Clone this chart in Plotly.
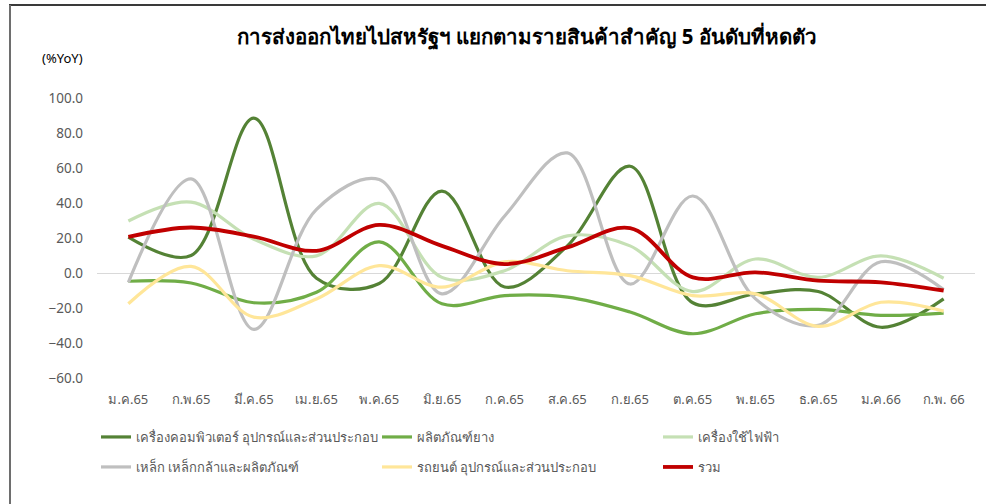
import plotly.graph_objects as go

months = ["ม.ค.65", "ก.พ.65", "มี.ค.65", "เม.ย.65", "พ.ค.65", "มิ.ย.65", "ก.ค.65",
          "ส.ค.65", "ก.ย.65", "ต.ค.65", "พ.ย.65", "ธ.ค.65", "ม.ค.66", "ก.พ. 66"]

computer = [20.5, 10.0, 88.5, -3.0, -6.0, 46.8, -8.0, 15.5, 61.0, -17.0, -12.0, -10.6, -31.0, -14.8]
rubber = [-4.7, -5.7, -17.0, -11.0, 17.8, -17.6, -12.9, -13.8, -22.3, -34.7, -23.3, -20.8, -24.2, -22.9]
appliance = [29.7, 40.5, 19.3, 9.8, 39.8, -2.5, 1.3, 21.2, 15.5, -10.6, 8.0, -2.5, 9.8, -3.0]
steel = [-5.3, 53.8, -32.2, 36.4, 53.4, -11.9, 32.6, 68.6, -6.3, 44.0, -14.8, -29.9, 6.4, -9.5]
auto = [-17.6, 3.8, -25.2, -14.8, 4.2, -8.1, 6.4, 1.3, -1.5, -12.9, -11.9, -30.5, -16.7, -21.8]
total = [20.6, 26.0, 20.8, 12.7, 27.5, 15.5, 5.1, 14.6, 25.6, -2.5, 0.4, -4.4, -5.3, -10.0]

series = [
    ("เครื่องคอมพิวเตอร์ อุปกรณ์และส่วนประกอบ", computer, "#548235", 3.2, "legend"),
    ("ผลิตภัณฑ์ยาง", rubber, "#70AD47", 3.2, "legend"),
    ("เครื่องใช้ไฟฟ้า", appliance, "#C5E0B4", 3.2, "legend"),
    ("เหล็ก เหล็กกล้าและผลิตภัณฑ์", steel, "#BFBFBF", 3.2, "legend2"),
    ("รถยนต์ อุปกรณ์และส่วนประกอบ", auto, "#FFE699", 3.2, "legend2"),
    ("รวม", total, "#C00000", 3.8, "legend2"),
]

FONT = "Noto Sans, DejaVu Sans, sans-serif"

fig = go.Figure()
for name, vals, color, w, lg in series:
    fig.add_trace(go.Scatter(
        x=months, y=vals, name=name, mode="lines", legend=lg,
        line=dict(color=color, width=w, shape="spline", smoothing=1.0),
    ))

L, R, T, B = 97, 11, 98, 126
W, H = 986, 504
pw, ph = W - L - R, H - T - B

def px(x):
    return (x - L) / pw

def py(y):
    return (H - B - y) / ph

legend_common = dict(
    orientation="h", xanchor="left", yanchor="middle",
    entrywidth=236, entrywidthmode="pixels", itemwidth=30,
    font=dict(size=13, color="#595959", family=FONT),
    bgcolor="rgba(0,0,0,0)",
)

fig.update_layout(
    width=W, height=H,
    margin=dict(l=L, r=R, t=T, b=B, autoexpand=False),
    paper_bgcolor="white", plot_bgcolor="white",
    font=dict(family=FONT, color="#595959", size=13),
    title=dict(
        text="<b>การส่งออกไทยไปสหรัฐฯ แยกตามรายสินค้าสำคัญ 5 อันดับที่หดตัว</b>",
        x=527 / W, xref="container", xanchor="center",
        y=1 - 37 / H, yref="container", yanchor="middle",
        font=dict(size=20.5, color="#000000", family=FONT),
    ),
    xaxis=dict(
        type="category", showgrid=False, showline=False, ticks="",
        tickfont=dict(size=13, color="#595959"),
        ticklabelstandoff=12,
        range=[-0.5, len(months) - 0.5],
    ),
    yaxis=dict(
        range=[-60, 100], tickvals=[-60, -40, -20, 0, 20, 40, 60, 80, 100],
        tickformat=".1f", showgrid=False, showline=False, ticks="",
        zeroline=True, zerolinecolor="#D9D9D9", zerolinewidth=1,
        tickfont=dict(size=13.5, color="#595959"),
        ticklabelstandoff=13,
    ),
    legend=dict(x=px(96), y=py(437), **legend_common),
    legend2=dict(x=px(96), y=py(467), **legend_common),
    showlegend=True,
)

fig.add_annotation(
    text="(%YoY)", xref="paper", yref="paper",
    x=px(62), y=py(58), xanchor="center", yanchor="middle",
    showarrow=False, font=dict(size=13, color="#000000", family=FONT),
)

# outer frame (top and left edges)
fig.add_shape(type="line", xref="paper", yref="paper",
              x0=px(9), x1=px(986), y0=py(5), y1=py(5),
              line=dict(color="#3A3A3A", width=2))
fig.add_shape(type="line", xref="paper", yref="paper",
              x0=px(10), x1=px(10), y0=py(5), y1=py(504),
              line=dict(color="#6E6E6E", width=2))

fig.write_html("out.html", config={"displayModeBar": False},
               post_script="document.body.style.margin='0';")
